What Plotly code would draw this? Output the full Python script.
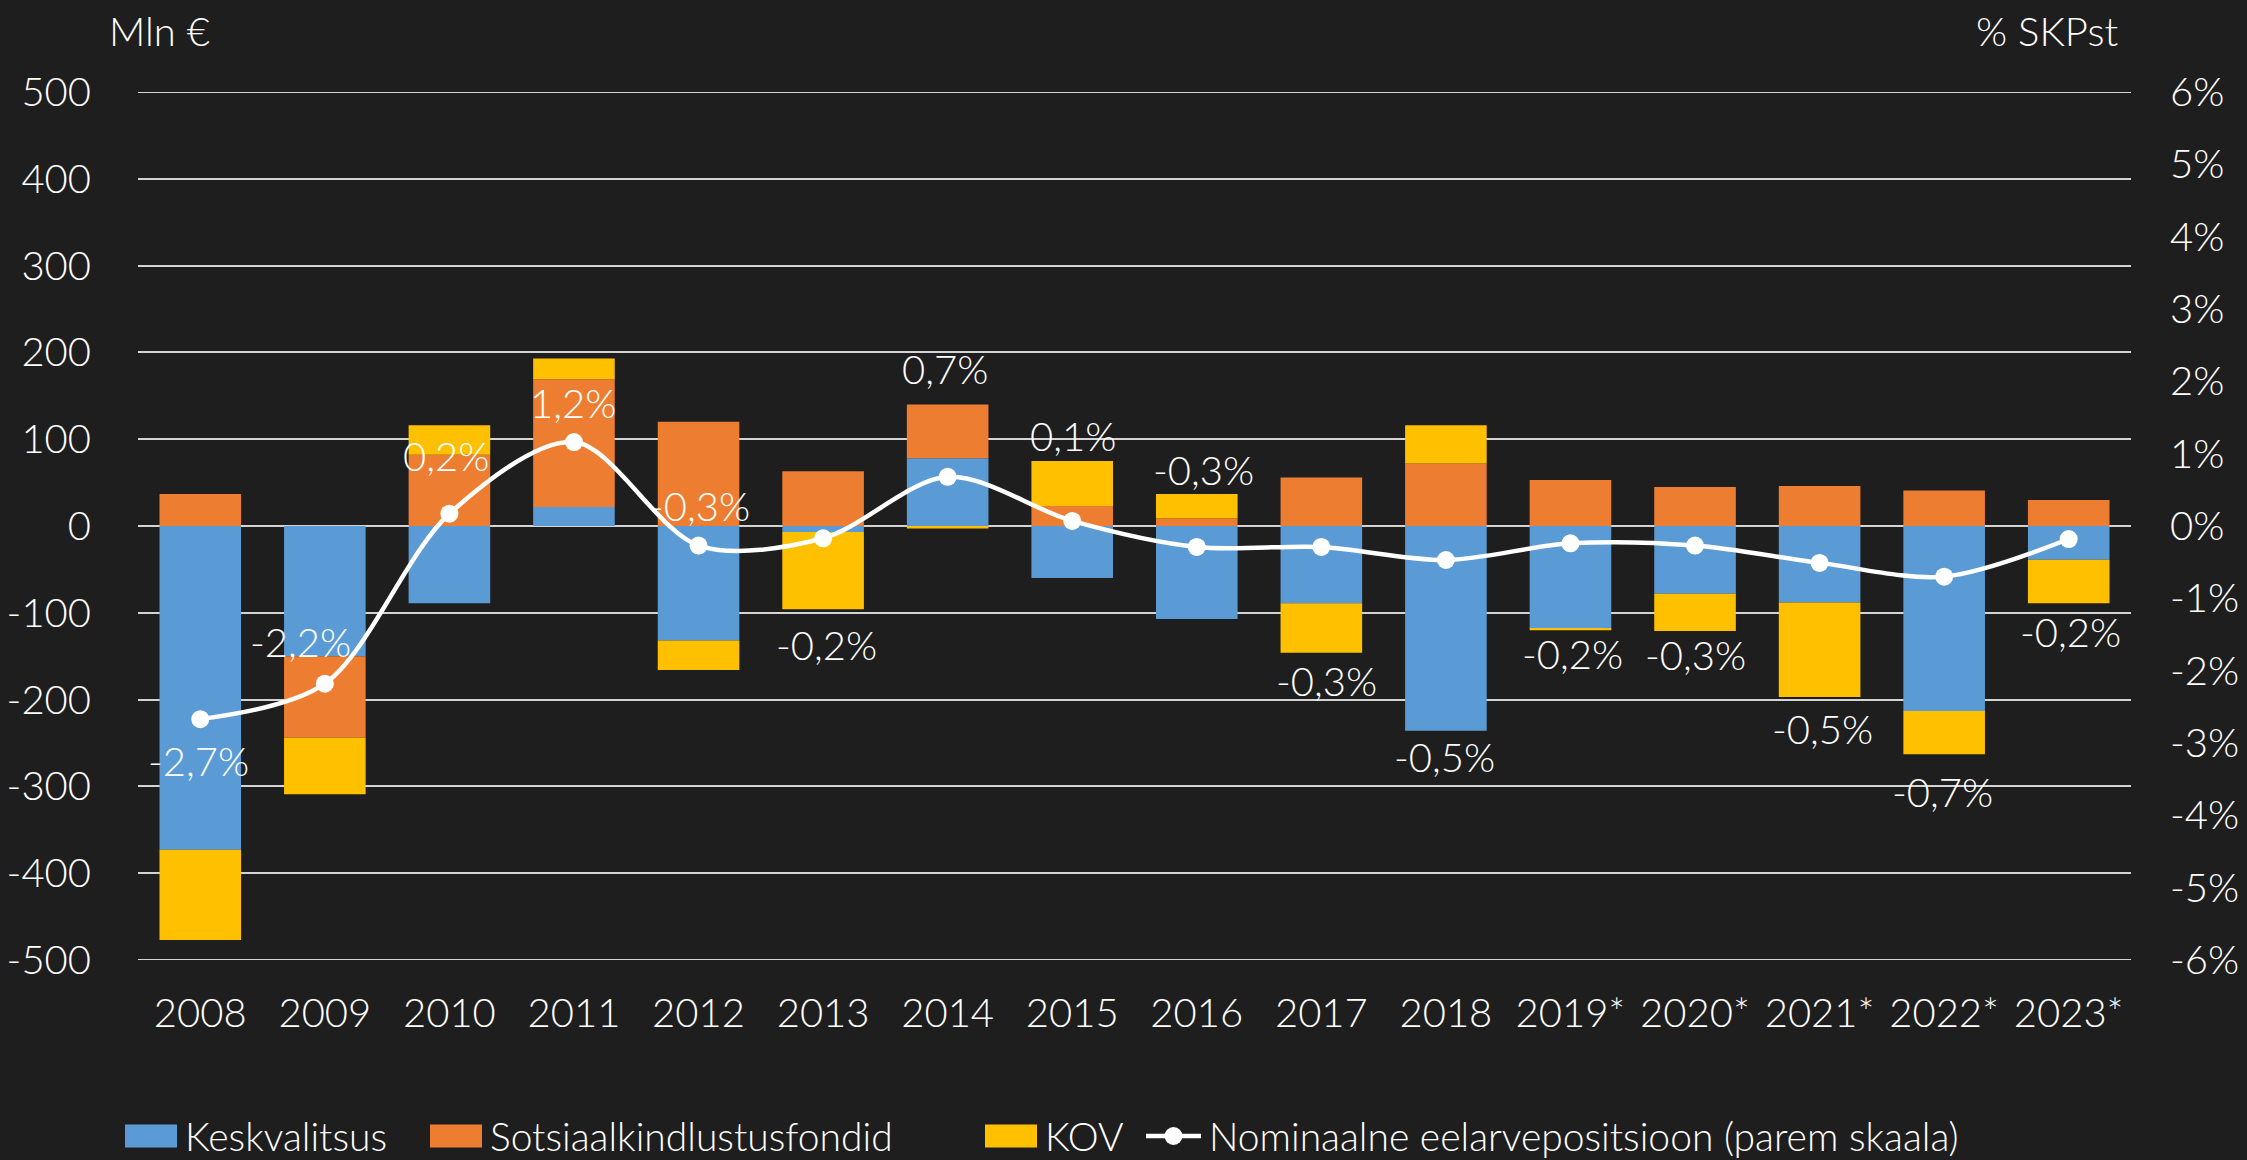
import plotly.graph_objects as go

# ---------------- data ----------------
years = ["2008", "2009", "2010", "2011", "2012", "2013", "2014", "2015",
         "2016", "2017", "2018", "2019*", "2020*", "2021*", "2022*", "2023*"]
keskvalitsus = [-373, -150, -89, 22, -132, -7, 78, -60, -107, -89, -236, -118, -78, -88, -213, -39]
sotsiaal = [37, -94, 82, 147, 120, 63, 62, 23, 9, 56, 72, 53, 45, 46, 41, 30]
kov = [-104, -65, 34, 24, -34, -89, -3, 52, 28, -57, 44, -2, -43, -109, -50, -50]
balance_pct = [-2.67, -2.18, 0.17, 1.16, -0.27, -0.17, 0.68, 0.07, -0.29, -0.29,
               -0.47, -0.24, -0.27, -0.51, -0.70, -0.18]

left_ticks = [500, 400, 300, 200, 100, 0, -100, -200, -300, -400, -500]
left_ticktext = ["500", "400", "300", "200", "100", "0", "-100", "-200", "-300", "-400", "-500"]
right_ticks = [6, 5, 4, 3, 2, 1, 0, -1, -2, -3, -4, -5, -6]
right_ticktext = ["6%", "5%", "4%", "3%", "2%", "1%", "0%", "-1%", "-2%", "-3%", "-4%", "-5%", "-6%"]

series_names = ["Keskvalitsus", "Sotsiaalkindlustusfondid", "KOV",
                "Nominaalne eelarvepositsioon (parem skaala)"]

# ---------------- styling ----------------
C_BLUE = "#5B9BD5"
C_ORANGE = "#ED7D31"
C_YELLOW = "#FFC000"
C_WHITE = "#FFFFFF"
BG = "#1e1e1e"
GRID = "#d4d4d4"
FONT = "Lato, 'Open Sans', 'Liberation Sans', sans-serif"

W, H = 2247, 1160
PL, PR, PT, PB = 138, 2131, 92, 960  # plot area in pixels

def px_x(p):
    return (p - PL) / (PR - PL)

def px_y(p):
    return (PB - p) / (PB - PT)

# label offsets in pixels (dx, dy; dy positive = downward)
label_offsets = [(-2, 42), (-24, -42), (-3, -58), (-1, -39), (1, -40), (3, 107),
                 (-3, -108), (1, -85), (7, -77), (5, 134), (-1, 197), (2, 111),
                 (0, 109), (3, 166), (-2, 215), (2, 93)]

fig = go.Figure()
for name, vals, col in [(series_names[0], keskvalitsus, C_BLUE),
                        (series_names[1], sotsiaal, C_ORANGE),
                        (series_names[2], kov, C_YELLOW)]:
    fig.add_trace(go.Bar(x=years, y=vals, name=name, marker_color=col,
                         marker_line_width=0, showlegend=False))

fig.add_trace(go.Scatter(x=years, y=balance_pct, yaxis="y2", name=series_names[3],
                         mode="lines+markers",
                         line=dict(color=C_WHITE, width=4.5, shape="spline", smoothing=0.9),
                         marker=dict(color=C_WHITE, size=18),
                         showlegend=False))

annotations = []
for i, (v, (dx, dy)) in enumerate(zip(balance_pct, label_offsets)):
    txt = f"{v:.1f}".replace(".", ",") + "%"
    annotations.append(dict(x=i, y=v, xref="x", yref="y2", text=txt, showarrow=False,
                            xshift=dx, yshift=-dy,
                            font=dict(family=FONT, size=40, color=C_WHITE, weight=300)))

# axis titles
annotations.append(dict(x=px_x(107), y=px_y(31), xref="paper", yref="paper", text="Mln €",
                        showarrow=False, xanchor="left", yanchor="middle",
                        font=dict(family=FONT, size=40, color=C_WHITE, weight=300)))
annotations.append(dict(x=px_x(2120), y=px_y(31), xref="paper", yref="paper", text="% SKPst",
                        showarrow=False, xanchor="right", yanchor="middle",
                        font=dict(family=FONT, size=40, color=C_WHITE, weight=300)))

shapes = []
# gridlines at the range ends (plotly skips those at the plot edges)
for yv in (left_ticks[0], left_ticks[-1]):
    shapes.append(dict(type="line", xref="paper", yref="y", x0=0, x1=1, y0=yv, y1=yv,
                       line=dict(color=GRID, width=2), layer="below"))

# custom legend
legend_y = 1136
legend_items = [(125, C_BLUE, "bar"), (430, C_ORANGE, "bar"), (985, C_YELLOW, "bar"), (1146, C_WHITE, "line")]
for (lx, col, kind), name in zip(legend_items, series_names):
    if kind == "bar":
        shapes.append(dict(type="rect", xref="paper", yref="paper",
                           x0=px_x(lx), x1=px_x(lx + 52), y0=px_y(legend_y - 11.5), y1=px_y(legend_y + 11.5),
                           fillcolor=col, line=dict(width=0)))
        tx = lx + 58
    else:
        shapes.append(dict(type="line", xref="paper", yref="paper",
                           x0=px_x(lx), x1=px_x(lx + 55), y0=px_y(legend_y), y1=px_y(legend_y),
                           line=dict(color=col, width=4.5)))
        shapes.append(dict(type="circle", xref="paper", yref="paper",
                           x0=px_x(lx + 18.5), x1=px_x(lx + 36.5), y0=px_y(legend_y - 9), y1=px_y(legend_y + 9),
                           fillcolor=col, line=dict(width=0)))
        tx = lx + 61
    annotations.append(dict(x=px_x(tx), y=px_y(legend_y), xref="paper", yref="paper", text=name,
                            showarrow=False, xanchor="left", yanchor="middle",
                            font=dict(family=FONT, size=39, color=C_WHITE, weight=300)))

fig.update_layout(
    width=W, height=H,
    barmode="relative", bargap=0.345,
    paper_bgcolor=BG, plot_bgcolor=BG,
    margin=dict(l=PL, r=W - PR, t=PT, b=H - PB, autoexpand=False),
    font=dict(family=FONT, size=40, color=C_WHITE, weight=300),
    showlegend=False,
    xaxis=dict(type="category", categoryorder="array", categoryarray=years,
               range=[-0.5, len(years) - 0.5],
               showgrid=False, zeroline=False, showline=False,
               ticks="outside", ticklen=18, tickcolor="rgba(0,0,0,0)",
               tickfont=dict(family=FONT, size=40, color=C_WHITE, weight=300), automargin=False),
    yaxis=dict(range=[-500, 500], tickvals=left_ticks, ticktext=left_ticktext,
               showgrid=True, gridcolor=GRID, gridwidth=2, zeroline=False, showline=False,
               ticks="outside", ticklen=38, tickcolor="rgba(0,0,0,0)",
               tickfont=dict(family=FONT, size=40, color=C_WHITE, weight=300), automargin=False),
    yaxis2=dict(range=[-6, 6], tickvals=right_ticks, ticktext=right_ticktext,
                overlaying="y", side="right", showgrid=False, zeroline=False, showline=False,
                ticks="outside", ticklen=30, tickcolor="rgba(0,0,0,0)",
                tickfont=dict(family=FONT, size=40, color=C_WHITE, weight=300), automargin=False),
    annotations=annotations,
    shapes=shapes,
)

fig.write_html("out.html", config={"displayModeBar": False},
               post_script="document.body.style.margin='0';document.body.style.padding='0';"
                           "document.body.style.overflow='hidden';"
                           "document.body.style.background='" + BG + "';")
